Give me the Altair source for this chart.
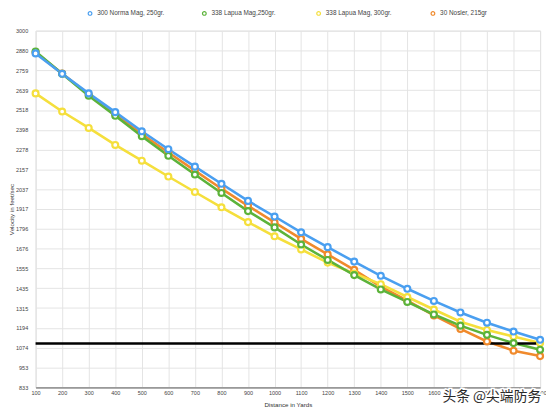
import altair as alt
import pandas as pd

distance = [100, 200, 300, 400, 500, 600, 700, 800, 900, 1000,
            1100, 1200, 1300, 1400, 1500, 1600, 1700, 1800, 1900, 2000]
norma300_250 = [2862, 2738, 2619, 2505, 2389, 2280, 2174, 2070, 1966, 1871,
                1775, 1685, 1597, 1511, 1432, 1358, 1288, 1226, 1172, 1122]
lapua338_250 = [2874, 2738, 2605, 2483, 2359, 2240, 2126, 2014, 1904, 1805,
                1701, 1607, 1515, 1428, 1352, 1276, 1208, 1152, 1102, 1062]
lapua338_300 = [2619, 2509, 2409, 2306, 2210, 2114, 2020, 1927, 1837, 1751,
                1671, 1591, 1525, 1460, 1382, 1306, 1232, 1182, 1142, 1102]
nosler30_215 = [2868, 2740, 2612, 2494, 2372, 2260, 2150, 2040, 1936, 1835,
                1735, 1641, 1547, 1445, 1360, 1270, 1188, 1112, 1056, 1023]

series_names = ["300 Norma Mag, 250gr.", "338 Lapua Mag,250gr.",
                "338 Lapua Mag, 300gr.", "30 Nosler, 215gr"]
series_colors = ["#4a9ff0", "#5cb33a", "#f5df3c", "#f08a2c"]
y_ticks = [833, 953, 1074, 1194, 1315, 1435, 1555, 1676, 1796, 1917,
           2037, 2157, 2278, 2398, 2518, 2639, 2759, 2880, 3000]
x_ticks = distance
ref_velocity = [1100]
watermark = "头条 @尖端防务"

# draw order: orange, yellow, green, blue (blue on top)
draw_order = [
    (series_names[3], nosler30_215),
    (series_names[2], lapua338_300),
    (series_names[1], lapua338_250),
    (series_names[0], norma300_250),
]
rows = []
for order_i, (name, vals) in enumerate(draw_order):
    for d, v in zip(distance, vals):
        rows.append({"Distance": d, "Velocity": v, "Series": name, "z": order_i})
df = pd.DataFrame(rows)

font = "Liberation Sans"
xscale = alt.Scale(domain=[100, 2000], nice=False, zero=False)
yscale = alt.Scale(domain=[833, 3000], nice=False, zero=False)
legend = alt.Legend(title=None, orient="none", direction="horizontal",
                    columns=4, legendX=52, legendY=-21,
                    symbolType="circle", symbolSize=14,
                    symbolStrokeWidth=1.2, symbolFillColor="white",
                    labelFont=font, labelFontSize=6.5, labelColor="#444",
                    gridAlign="all", columnPadding=35, labelOffset=4)
color = alt.Color("Series:N",
                  scale=alt.Scale(domain=series_names, range=series_colors),
                  legend=legend)

x_axis = alt.Axis(values=x_ticks, title="Distance in Yards", format="d",
                  labelFont=font, labelFontSize=5.6, labelColor="#444",
                  titleFont=font, titleFontSize=6.3, titleFontWeight="normal",
                  titleColor="#333", titlePadding=6, ticks=False,
                  labelPadding=3, domainColor="#999", domainWidth=2,
                  gridColor="#e4e4e4", labelFlush=False, labelOverlap=False)
y_axis = alt.Axis(values=y_ticks, title="Velocity in feet/sec", format="d",
                  labelFont=font, labelFontSize=5.6, labelColor="#444",
                  titleFont=font, titleFontSize=6.3, titleFontWeight="normal",
                  titleColor="#333", titlePadding=1, ticks=False,
                  labelPadding=8, domain=False, gridColor="#e4e4e4",
                  labelFlush=False, labelOverlap=False)
x_enc = alt.X("Distance:Q", scale=xscale, axis=x_axis)
y_enc = alt.Y("Velocity:Q", scale=yscale, axis=y_axis)

lines = alt.Chart(df).mark_line(strokeWidth=2.6).encode(
    x=x_enc, y=y_enc, color=color, detail="z:O",
)
points = alt.Chart(df).mark_point(filled=False, fill="white", fillOpacity=1,
                                  size=36, strokeWidth=2.2, opacity=1).encode(
    x=x_enc, y=y_enc, color=color,
)
ref = alt.Chart(pd.DataFrame({"v": ref_velocity})).mark_rule(
    color="black", strokeWidth=2.5).encode(
    y=alt.Y("v:Q", scale=yscale, axis=y_axis))

wm_df = pd.DataFrame({"t": [watermark]})
wm_halo = alt.Chart(wm_df).mark_text(
    font="Noto Sans CJK SC", fontSize=14, color="white", stroke="white",
    strokeWidth=3, align="center", baseline="middle").encode(
    text="t:N", x=alt.value(463), y=alt.value(372))
wm_text = alt.Chart(wm_df).mark_text(
    font="Noto Sans CJK SC", fontSize=14, color="#2a2a2a",
    align="center", baseline="middle").encode(
    text="t:N", x=alt.value(463), y=alt.value(372))

chart = alt.layer(lines, ref, points, wm_halo, wm_text).properties(
    width=512, height=362,
    padding={"left": 28, "top": 20, "right": 6, "bottom": 24},
    autosize="none",
).configure_view(stroke=None).configure_axis(
    labelOverlap=False, labelBound=False
).configure(background="white")

chart.save("out.html", embed_options={"renderer": "svg", "actions": False})
